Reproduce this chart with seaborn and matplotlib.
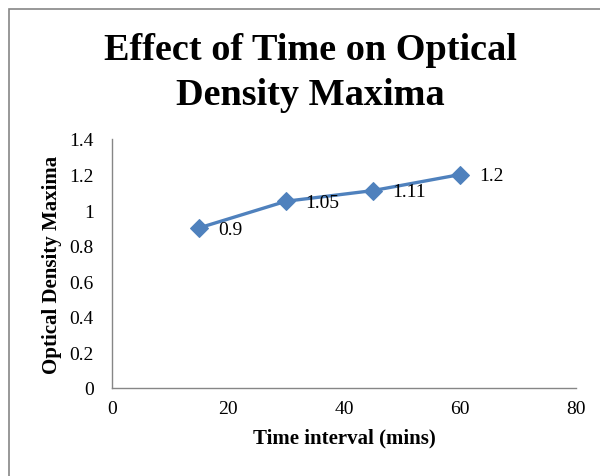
import matplotlib
matplotlib.use("Agg")
import matplotlib.pyplot as plt
import seaborn as sns
import pandas as pd
from matplotlib.patches import Rectangle

time_mins = [15, 30, 45, 60]
od_maxima = [0.9, 1.05, 1.11, 1.2]
point_labels = ["0.9", "1.05", "1.11", "1.2"]
x_ticks = [0, 20, 40, 60, 80]
y_ticks = [0, 0.2, 0.4, 0.6, 0.8, 1.0, 1.2, 1.4]
y_tick_labels = ["0", "0.2", "0.4", "0.6", "0.8", "1", "1.2", "1.4"]

sns.set_theme(style="white")
plt.rcParams["font.family"] = ["Liberation Serif", "DejaVu Serif"]

df = pd.DataFrame({"time": time_mins, "od": od_maxima})

W, H = 600, 477
fig = plt.figure(figsize=(W / 100, H / 100), dpi=100)
ax = fig.add_axes([112 / W, 1 - 389 / H, (576 - 112) / W, (389 - 140) / H])

# outer chart frame
fig.patches.append(Rectangle((9 / W, -0.05), 1.2, 1 - 10 / H + 0.05,
                             transform=fig.transFigure, fill=False,
                             edgecolor="#868686", linewidth=1.2))

sns.lineplot(data=df, x="time", y="od", ax=ax, color="#4F81BD", linewidth=2.4,
             marker="D", markersize=9, markeredgecolor="#4F81BD")

for x, y, t in zip(time_mins, od_maxima, point_labels):
    ax.annotate(t, (x, y), xytext=(14, -1), textcoords="offset points",
                ha="left", va="center", fontsize=14, color="black")

ax.set_xlim(0, 80)
ax.set_ylim(0, 1.4)
ax.set_xticks(x_ticks)
ax.set_yticks(y_ticks)
ax.set_yticklabels(y_tick_labels)
ax.tick_params(axis="both", length=0, labelsize=14, colors="black")
ax.tick_params(axis="y", pad=13)
ax.tick_params(axis="x", pad=9)

for side in ["top", "right"]:
    ax.spines[side].set_visible(False)
for side in ["left", "bottom"]:
    ax.spines[side].set_color("#868686")
    ax.spines[side].set_linewidth(1.0)

ax.set_xlabel("Time interval (mins)", fontsize=15, fontweight="bold",
              labelpad=7, color="black")
ax.set_ylabel("Optical Density Maxima", fontsize=15, fontweight="bold",
              labelpad=5, color="black")

fig.text(0.518, 1 - 50 / H, "Effect of Time on Optical", ha="center", va="center",
         fontsize=27.5, fontweight="bold", color="black")
fig.text(0.518, 1 - 96 / H, "Density Maxima", ha="center", va="center",
         fontsize=27.5, fontweight="bold", color="black")

fig.savefig("out.png", dpi=100)
